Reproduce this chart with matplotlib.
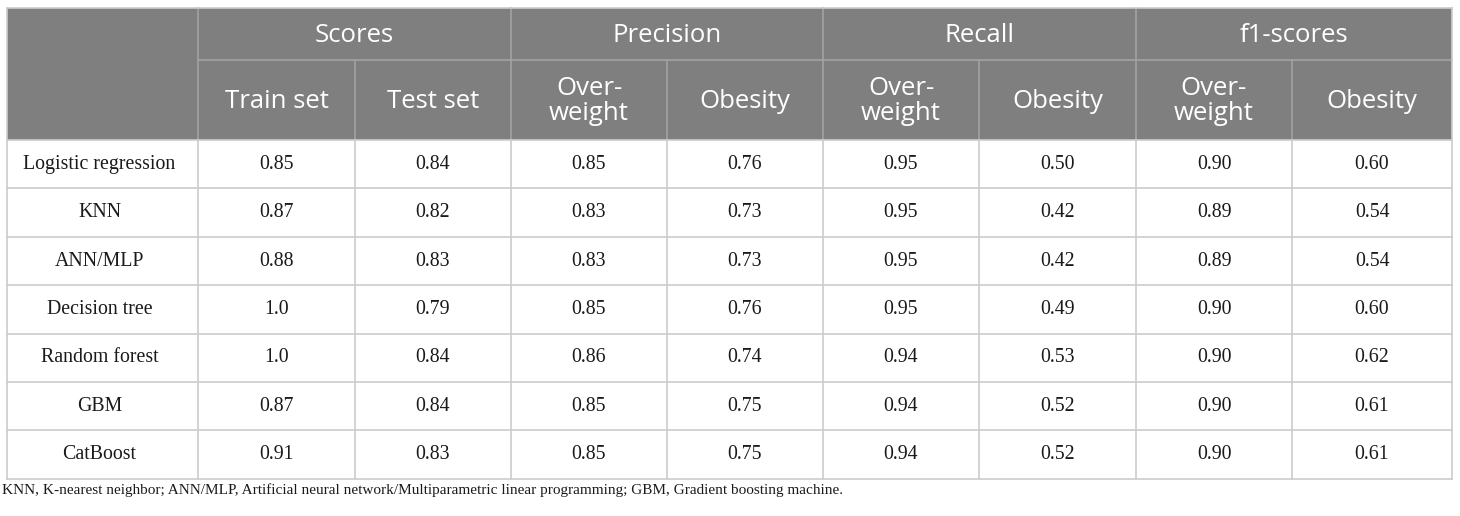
import matplotlib.pyplot as plt

# --- DATA ---
MODELS = ["Logistic regression", "KNN", "ANN/MLP", "Decision tree",
          "Random forest", "GBM", "CatBoost"]
GROUPS = ["Scores", "Precision", "Recall", "f1-scores"]
SUBHEADERS = ["Train set", "Test set", "Over-\nweight", "Obesity",
              "Over-\nweight", "Obesity", "Over-\nweight", "Obesity"]
TRAIN = ["0.85", "0.87", "0.88", "1.0", "1.0", "0.87", "0.91"]
TEST = ["0.84", "0.82", "0.83", "0.79", "0.84", "0.84", "0.83"]
PREC_OW = ["0.85", "0.83", "0.83", "0.85", "0.86", "0.85", "0.85"]
PREC_OB = ["0.76", "0.73", "0.73", "0.76", "0.74", "0.75", "0.75"]
REC_OW = ["0.95", "0.95", "0.95", "0.95", "0.94", "0.94", "0.94"]
REC_OB = ["0.50", "0.42", "0.42", "0.49", "0.53", "0.52", "0.52"]
F1_OW = ["0.90", "0.89", "0.89", "0.90", "0.90", "0.90", "0.90"]
F1_OB = ["0.60", "0.54", "0.54", "0.60", "0.62", "0.61", "0.61"]
FOOTNOTE = ("KNN, K-nearest neighbor; ANN/MLP, Artificial neural network/"
            "Multiparametric linear programming; GBM, Gradient boosting machine.")

COLUMNS = [TRAIN, TEST, PREC_OW, PREC_OB, REC_OW, REC_OB, F1_OW, F1_OB]

# --- LAYOUT (pixel units) ---
W, H = 1460, 516
X_EDGES = [7, 198, 355, 511, 667, 823, 979, 1136, 1292, 1452]
Y_TOP, Y_MID, Y_HEAD = 8, 60, 140
ROW_H = 48.4

HEAD_BG = "#7f7f7f"
HEAD_LINE = "#a3a3a3"
GRID = "#cccccc"
SANS = "Open Sans"
SERIF = "Liberation Serif"

fig = plt.figure(figsize=(W / 100, H / 100), dpi=100)
ax = fig.add_axes([0, 0, 1, 1])
ax.set_xlim(0, W)
ax.set_ylim(H, 0)
ax.axis("off")

x_left, x_right = X_EDGES[0], X_EDGES[-1]
y_bottom = Y_HEAD + ROW_H * len(MODELS)

# header background
ax.add_patch(plt.Rectangle((x_left, Y_TOP), x_right - x_left, Y_HEAD - Y_TOP,
                           facecolor=HEAD_BG, edgecolor="none"))

# header lines
ax.plot([X_EDGES[1], x_right], [Y_MID, Y_MID], color=HEAD_LINE, lw=1.2)
for i, x in enumerate(X_EDGES[1:-1]):
    top = Y_TOP if i % 2 == 0 else Y_MID
    ax.plot([x, x], [top, Y_HEAD], color=HEAD_LINE, lw=1.2)

# group headers
for g, name in enumerate(GROUPS):
    xc = (X_EDGES[1 + 2 * g] + X_EDGES[3 + 2 * g]) / 2
    ax.text(xc, (Y_TOP + Y_MID) / 2 + 1, name, ha="center", va="center",
            fontsize=18.5, family=SANS, color="white")

# sub headers
for c, name in enumerate(SUBHEADERS):
    xc = (X_EDGES[1 + c] + X_EDGES[2 + c]) / 2
    ax.text(xc, (Y_MID + Y_HEAD) / 2 + 1, name, ha="center", va="center",
            fontsize=18.5, family=SANS, color="white", linespacing=1.0)

# body grid
for r in range(len(MODELS) + 1):
    y = Y_HEAD + ROW_H * r
    ax.plot([x_left, x_right], [y, y], color=GRID, lw=1.2)
for x in X_EDGES:
    ax.plot([x, x], [Y_HEAD, y_bottom], color=GRID, lw=1.2)
ax.plot([x_left, x_right], [Y_TOP, Y_TOP], color=GRID, lw=1.2)
ax.plot([x_left, x_left], [Y_TOP, Y_HEAD], color=GRID, lw=1.2)
ax.plot([x_right, x_right], [Y_TOP, Y_HEAD], color=GRID, lw=1.2)

# body text
for r, model in enumerate(MODELS):
    yc = Y_HEAD + ROW_H * (r + 0.5)
    ax.text((X_EDGES[0] + X_EDGES[1]) / 2 - 3, yc, model, ha="center",
            va="center", fontsize=14.3, family=SERIF, color="#1a1a1a")
    for c, col in enumerate(COLUMNS):
        xc = (X_EDGES[1 + c] + X_EDGES[2 + c]) / 2
        ax.text(xc, yc, col[r], ha="center", va="center",
                fontsize=14.3, family=SERIF, color="#1a1a1a")

# footnote
ax.text(2, y_bottom + 11, FOOTNOTE, ha="left", va="center",
        fontsize=11, family=SERIF, color="#1a1a1a")

fig.savefig("out.png", dpi=100)
